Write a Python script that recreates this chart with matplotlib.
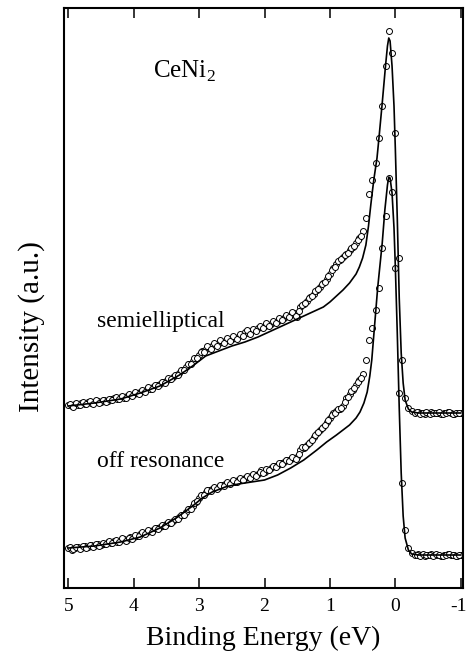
import matplotlib
matplotlib.use("Agg")
import matplotlib.pyplot as plt
from matplotlib.transforms import ScaledTranslation

# ---------------- data ----------------
energy = [5.00, 4.95, 4.90, 4.85, 4.80, 4.75, 4.70, 4.65, 4.60, 4.55,
          4.50, 4.45, 4.40, 4.35, 4.30, 4.25, 4.20, 4.15, 4.10, 4.05,
          4.00, 3.95, 3.90, 3.85, 3.80, 3.75, 3.70, 3.65, 3.60, 3.55,
          3.50, 3.45, 3.40, 3.35, 3.30, 3.25, 3.20, 3.15, 3.10, 3.05,
          3.00, 2.95, 2.90, 2.85, 2.80, 2.75, 2.70, 2.65, 2.60, 2.55,
          2.50, 2.45, 2.40, 2.35, 2.30, 2.25, 2.20, 2.15, 2.10, 2.05,
          2.00, 1.95, 1.90, 1.85, 1.80, 1.75, 1.70, 1.65, 1.60, 1.55,
          1.50, 1.45, 1.40, 1.35, 1.30, 1.25, 1.20, 1.15, 1.10, 1.05,
          1.00, 0.95, 0.90, 0.85, 0.80, 0.75, 0.70, 0.65, 0.60, 0.55,
          0.50, 0.45, 0.40, 0.35, 0.30, 0.25, 0.20, 0.15, 0.10, 0.05,
          0.00, -0.05, -0.10, -0.15, -0.20, -0.25, -0.30, -0.35, -0.40, -0.45,
          -0.50, -0.55, -0.60, -0.65, -0.70, -0.75, -0.80, -0.85, -0.90, -0.95,
          -1.00]

semielliptical_data = [183, 182, 184, 183, 185, 184, 186, 185, 186, 187,
                       186, 188, 187, 189, 190, 189, 191, 190, 192, 193,
                       194, 195, 196, 197, 199, 199, 201, 203, 204, 206,
                       207, 209, 211, 213, 215, 218, 221, 224, 227, 230,
                       233, 237, 239, 240, 242, 243, 245, 246, 247, 248,
                       249, 250, 251, 253, 256, 255, 257, 258, 260, 261,
                       262, 263, 264, 266, 267, 269, 270, 272, 273, 275,
                       271, 281, 284, 287, 291, 294, 298, 301, 305, 309,
                       314, 320, 324, 328, 331, 334, 338, 341, 345, 350,
                       357, 370, 394, 408, 425, 450, 482, 522, 557, 535,
                       455, 330, 228, 190, 180, 177, 175, 176, 175, 174,
                       175, 176, 175, 175, 174, 175, 176, 175, 174, 175,
                       175]

offres_data = [40, 38, 40, 41, 40, 42, 41, 43, 42, 44,
               43, 44, 46, 45, 47, 46, 48, 49, 48, 51,
               51, 52, 54, 55, 56, 57, 58, 60, 61, 62,
               64, 65, 67, 69, 71, 73, 76, 79, 82, 86,
               90, 93, 96, 98, 99, 100, 101, 103, 104, 105,
               106, 106, 108, 109, 110, 111, 112, 113, 114, 118,
               116, 118, 120, 122, 123, 125, 126, 128, 129, 130,
               131, 138, 140, 143, 146, 151, 155, 158, 161, 166,
               170, 175, 177, 179, 182, 190, 194, 198, 203, 208,
               214, 228, 248, 260, 278, 300, 340, 372, 410, 396,
               320, 195, 105, 58, 40, 35, 33, 34, 33, 32,
               33, 34, 33, 33, 32, 33, 34, 33, 33, 32,
               33]

# second (interleaved) set of measured points
energy_b = [4.975, 4.925, 4.875, 4.825, 4.775, 4.725, 4.675, 4.625, 4.575, 4.525,
            4.475, 4.425, 4.375, 4.325, 4.275, 4.225, 4.175, 4.125, 4.075, 4.025,
            3.975, 3.925, 3.875, 3.825, 3.775, 3.725, 3.675, 3.625, 3.575, 3.525,
            3.475, 3.425, 3.375, 3.325, 3.275, 3.225, 3.175, 3.125, 3.075, 3.025,
            2.975, 2.925, 2.875, 2.825, 2.775, 2.725, 2.675, 2.625, 2.575, 2.525,
            2.475, 2.425, 2.375, 2.325, 2.275, 2.225, 2.175, 2.125, 2.075, 2.025,
            1.975, 1.925, 1.875, 1.825, 1.775, 1.725, 1.675, 1.625, 1.575, 1.525,
            1.475, 1.425, 1.375, 1.325, 1.275, 1.225, 1.175, 1.125, 1.075, 1.025,
            0.975, 0.925, 0.875, 0.825, 0.775, 0.725, 0.675, 0.625, 0.575, 0.525,
            -0.325, -0.375, -0.425, -0.475, -0.525, -0.575, -0.625, -0.675, -0.725, -0.775,
            -0.825, -0.875, -0.925, -0.975]

semielliptical_data_b = [184, 181, 185, 183, 186, 184, 187, 184, 188, 185,
                         188, 186, 189, 188, 191, 189, 192, 190, 194, 192,
                         196, 194, 198, 196, 201, 199, 203, 202, 206, 205,
                         210, 209, 213, 213, 218, 218, 224, 224, 230, 230,
                         236, 236, 242, 239, 245, 242, 248, 245, 250, 247,
                         252, 249, 254, 252, 258, 254, 259, 257, 262, 260,
                         265, 262, 267, 265, 270, 268, 273, 271, 276, 272,
                         277, 283, 285, 290, 292, 297, 299, 304, 306, 312,
                         318, 321, 327, 329, 333, 335, 340, 342, 348, 352,
                         176, 174, 175, 176, 174, 175, 175, 176, 174, 175,
                         176, 174, 175, 175]

offres_data_b = [41, 39, 41, 39, 42, 40, 43, 41, 44, 42,
                 45, 44, 47, 45, 48, 46, 50, 47, 50, 49,
                 53, 52, 56, 54, 58, 56, 60, 59, 63, 62,
                 66, 65, 69, 69, 73, 73, 79, 79, 85, 87,
                 93, 93, 98, 97, 101, 99, 103, 102, 106, 104,
                 108, 106, 110, 108, 112, 110, 114, 112, 116, 115,
                 119, 118, 122, 121, 125, 124, 128, 127, 131, 129,
                 134, 141, 141, 145, 148, 153, 156, 160, 163, 168,
                 173, 175, 179, 180, 186, 191, 197, 200, 206, 210,
                 33, 32, 34, 33, 33, 32, 34, 33, 32, 33,
                 34, 33, 32, 33]

semi_fit_E = [5.0, 4.6, 4.2, 3.9, 3.6, 3.3, 3.1, 2.9, 2.7, 2.5,
              2.3, 2.1, 1.9, 1.7, 1.5, 1.3, 1.1, 1.0, 0.9, 0.8,
              0.7, 0.6, 0.55, 0.5, 0.45, 0.41, 0.375, 0.35, 0.325, 0.28,
              0.25, 0.2, 0.15, 0.12, 0.1, 0.08, 0.05, 0.02, 0.0, -0.03,
              -0.06, -0.09, -0.12, -0.15, -0.2, -0.25, -0.35, -1.0]
semi_fit_I = [182, 185, 189, 195, 202, 213, 222, 232, 237, 242,
              246, 251, 257, 263, 269, 275, 281, 286, 292, 298,
              305, 314, 321, 330, 343, 362, 383, 397, 410, 430,
              450, 485, 522, 542, 550, 547, 522, 482, 440, 370,
              290, 235, 205, 188, 179, 176, 175, 175]

off_fit_E = [5.0, 4.6, 4.2, 3.9, 3.6, 3.35, 3.1, 2.95, 2.8, 2.6,
             2.4, 2.2, 2.0, 1.8, 1.6, 1.4, 1.2, 1.05, 0.9, 0.8,
             0.7, 0.6, 0.54, 0.48, 0.43, 0.39, 0.36, 0.31, 0.27, 0.2,
             0.16, 0.12, 0.1, 0.08, 0.05, 0.02, 0.0, -0.03, -0.06, -0.09,
             -0.12, -0.15, -0.2, -0.25, -0.35, -1.0]
off_fit_I = [40, 42, 46, 51, 60, 70, 82, 90, 96, 101,
             104, 106, 108, 113, 120, 128, 138, 146, 153, 158,
             163, 170, 176, 185, 196, 212, 228, 268, 300, 345,
             378, 403, 411, 410, 395, 360, 322, 255, 180, 115,
             72, 50, 38, 34, 33, 33]

xticks = [5, 4, 3, 2, 1, 0, -1]
xticklabels = ["5", "4", "3", "2", "1", "0", "-1"]

# ---------------- figure ----------------
plt.rcParams['font.family'] = ['Liberation Serif', 'DejaVu Serif']
plt.rcParams['mathtext.fontset'] = 'custom'
plt.rcParams['mathtext.rm'] = 'Liberation Serif'

W, H = 466, 662
fig = plt.figure(figsize=(W / 100, H / 100), dpi=100)
ax = fig.add_axes([64 / W, (H - 588) / H, (463 - 64) / W, (588 - 7.5) / H])

mk = dict(linestyle='none', marker='o', markersize=4.3, markerfacecolor='white',
          markeredgecolor='black', markeredgewidth=0.7)
ax.plot(energy, semielliptical_data, **mk)
ax.plot(energy_b, semielliptical_data_b, **mk)
ax.plot(energy, offres_data, **mk)
ax.plot(energy_b, offres_data_b, **mk)
ax.plot(semi_fit_E, semi_fit_I, color='black', lw=1.2)
ax.plot(off_fit_E, off_fit_I, color='black', lw=1.2)

ax.set_xlim(5.066, -1.035)
ax.set_ylim(0, 580.5)
ax.set_xticks(xticks)
ax.set_xticklabels(xticklabels, fontsize=14)
ax.set_yticks([])
ax.tick_params(axis='x', direction='in', top=True, bottom=True, length=7.5,
               width=1.1, pad=7)
for s in ax.spines.values():
    s.set_linewidth(1.5)

last = ax.get_xticklabels()[-1]
last.set_transform(last.get_transform() +
                   ScaledTranslation(-2.5 / 100, 0, fig.dpi_scale_trans))

ax.set_xlabel("Binding Energy (eV)", fontsize=20, labelpad=8)
ax.set_ylabel("Intensity (a.u.)", fontsize=21)
ax.yaxis.set_label_coords(-0.047, 0.45)

ax.text(3.71, 510, r"CeNi$_2$", fontsize=18, va='baseline', ha='left')
ax.text(4.56, 261, "semielliptical", fontsize=17, va='baseline', ha='left')
ax.text(4.56, 121, "off resonance", fontsize=17, va='baseline', ha='left')

fig.savefig("out.png", dpi=100)
